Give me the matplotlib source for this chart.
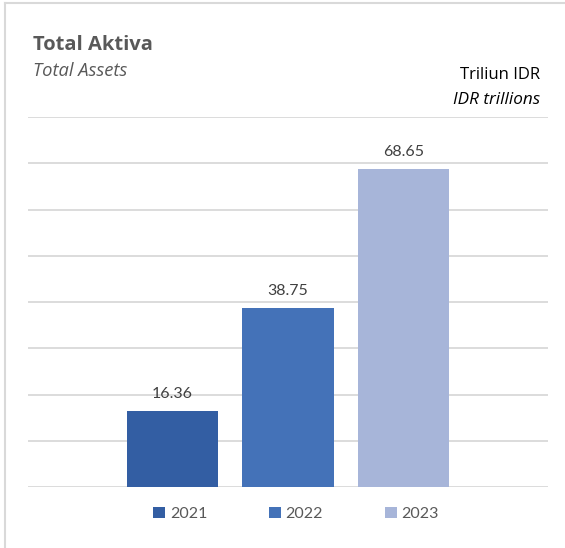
import matplotlib.pyplot as plt
from matplotlib.lines import Line2D
from matplotlib.patches import Patch

years = ['2021', '2022', '2023']
assets = [16.36, 38.75, 68.65]
colors = ['#335ea3', '#4472b8', '#a7b5d9']

title_font = 'Open Sans'
label_font = 'Lato'


def main():
    fig = plt.figure(figsize=(5.65, 5.48), dpi=100)
    W, H = 565, 548

    # plot area in pixel terms
    left, right, top, bottom = 28, 548, 117, 487
    ax = fig.add_axes([left / W, 1 - bottom / H, (right - left) / W, (bottom - top) / H])

    x = range(len(years))
    bars = ax.bar(x, assets, width=0.79, color=colors, zorder=3)
    for b, v in zip(bars, assets):
        ax.text(b.get_x() + b.get_width() / 2, v + 2.2, f'{v:.2f}',
                ha='center', va='bottom', fontsize=11.5, color='#404040',
                family=label_font)

    ax.set_xlim(-1.25, 3.25)
    ax.set_ylim(0, 80)
    ax.set_yticks(range(0, 81, 10))
    ax.yaxis.grid(True, color='#d9d9d9', linewidth=1.3, zorder=0)
    ax.set_xticks([])
    ax.tick_params(left=False, labelleft=False)
    for s in ax.spines.values():
        s.set_visible(False)

    handles = [Patch(facecolor=c) for c in colors]
    leg = fig.legend(handles, years, loc='center', bbox_to_anchor=(296 / W, 1 - 514 / H),
                     ncol=3, frameon=False, handlelength=0.75, handleheight=0.75,
                     handletextpad=0.3, columnspacing=3.85,
                     prop={'family': label_font, 'size': 11.5})
    for t in leg.get_texts():
        t.set_color('#595959')

    fig.text(33 / W, 1 - 45 / H, 'Total Aktiva', fontsize=14.5, fontweight='bold',
             color='#595959', family=title_font, va='center')
    fig.text(33 / W, 1 - 71 / H, 'Total Assets', fontsize=13.2, style='italic',
             color='#595959', family=title_font, va='center')
    fig.text(540 / W, 1 - 75 / H, 'Triliun IDR', fontsize=12,
             color='black', family=title_font, ha='right', va='center')
    fig.text(540 / W, 1 - 100 / H, 'IDR trillions', fontsize=12.3, style='italic',
             color='black', family=title_font, ha='right', va='center')

    # outer frame, top and left edges
    fig.add_artist(Line2D([4.5 / W, 4.5 / W], [0, 1 - 2.5 / H], color='#d9d9d9', lw=1.5))
    fig.add_artist(Line2D([4.5 / W, 1], [1 - 2.5 / H, 1 - 2.5 / H], color='#d9d9d9', lw=1.5))

    fig.savefig('out.png', dpi=100, facecolor='white')


if __name__ == '__main__':
    main()
